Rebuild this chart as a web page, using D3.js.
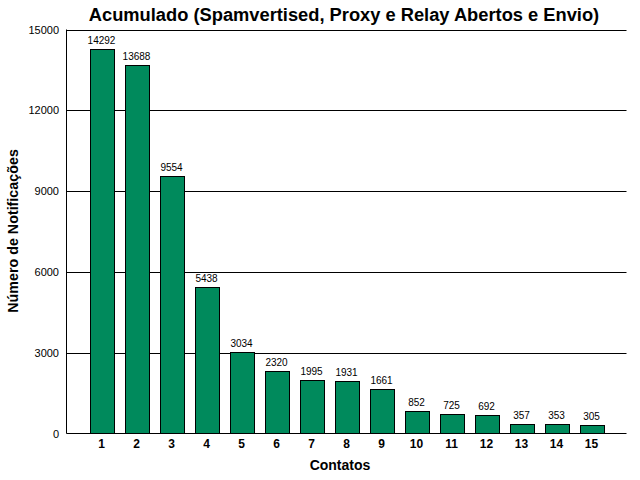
<!DOCTYPE html>
<html><head><meta charset="utf-8">
<script src="https://cdn.jsdelivr.net/npm/d3@7"></script>
<style>body{margin:0;background:#fff}</style>
</head><body>
<svg id="c" width="640" height="480"></svg>
<script>
const categories = ["1","2","3","4","5","6","7","8","9","10","11","12","13","14","15"];
const values = [14292,13688,9554,5438,3034,2320,1995,1931,1661,852,725,692,357,353,305];
const yTicks = [0,3000,6000,9000,12000,15000];

const svg = d3.select("#c");
const L = 66.5, R = 626.5, T = 29.5, B = 433.5;
const x = d3.scaleLinear().domain([0, 16]).range([L, R]);
const y = d3.scaleLinear().domain([0, 15000]).range([B, T]);
const font = "'Liberation Sans', Arial, sans-serif";
const bw = 24;

svg.append("g").selectAll("line").data(yTicks.filter(d=>d>0)).join("line")
  .attr("x1", L).attr("x2", R).attr("y1", d=>Math.round(y(d))+0.5).attr("y2", d=>Math.round(y(d))+0.5)
  .attr("stroke", "#000").attr("stroke-width", 1);

svg.append("g").selectAll("rect").data(values).join("rect")
  .attr("x", (d,i)=>Math.round(x(i+1)-bw/2)+0.5)
  .attr("width", bw)
  .attr("y", d=>Math.round(y(d))+0.5)
  .attr("height", d=>B - Math.round(y(d)) - 0.5)
  .attr("fill", "#008A5C").attr("stroke", "#000").attr("stroke-width", 1);

svg.append("g").selectAll("text").data(values).join("text")
  .attr("x", (d,i)=>x(i+1)).attr("y", d=>y(d)-5)
  .attr("text-anchor", "middle").attr("font-family", font).attr("font-size", 10)
  .text(d=>d);

// axes lines
svg.append("line").attr("x1", L).attr("x2", L).attr("y1", T).attr("y2", B).attr("stroke","#000");
svg.append("line").attr("x1", L).attr("x2", R).attr("y1", B).attr("y2", B).attr("stroke","#000");

svg.append("g").selectAll("text").data(yTicks).join("text")
  .attr("x", 59).attr("y", d=>y(d)+4)
  .attr("text-anchor", "end").attr("font-family", font).attr("font-size", 11)
  .text(d=>d);

svg.append("g").selectAll("text").data(categories).join("text")
  .attr("x", (d,i)=>x(i+1)).attr("y", 448)
  .attr("text-anchor", "middle").attr("font-family", font).attr("font-size", 12).attr("font-weight", "bold")
  .text(d=>d);

svg.append("text").attr("x", 344).attr("y", 21).attr("text-anchor","middle")
  .attr("font-family", font).attr("font-size", 18.3).attr("font-weight","bold")
  .text("Acumulado (Spamvertised, Proxy e Relay Abertos e Envio)");

svg.append("text").attr("x", 340).attr("y", 470).attr("text-anchor","middle")
  .attr("font-family", font).attr("font-size", 14).attr("font-weight","bold")
  .text("Contatos");

svg.append("text").attr("transform","translate(18,231) rotate(-90)").attr("text-anchor","middle")
  .attr("font-family", font).attr("font-size", 14.3).attr("font-weight","bold")
  .text("Número de Notificações");
</script>
</body></html>
